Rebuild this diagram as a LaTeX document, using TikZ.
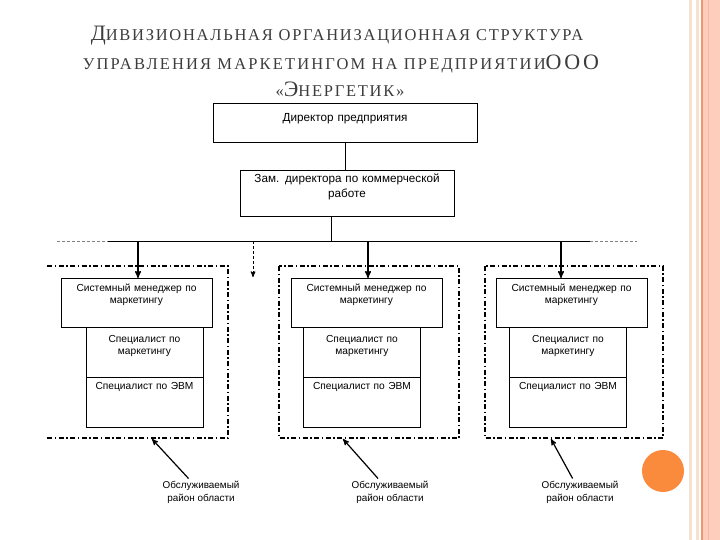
\documentclass[tikz,border=0pt]{standalone}
\usepackage{fontspec}
\setmainfont{Liberation Serif}
\newfontfamily\titlefont[LetterSpace=10.5]{Liberation Serif}
\newfontfamily\titlefontwide[LetterSpace=13]{Liberation Serif}
\newfontfamily\boxfont{Liberation Sans}
\usetikzlibrary{arrows,positioning}

\definecolor{titlegray}{RGB}{60,60,60}
\definecolor{bandpink}{RGB}{255,205,188}
\definecolor{bandline}{RGB}{238,150,112}
\definecolor{bandbeige}{RGB}{246,224,208}
\definecolor{dotorange}{RGB}{250,138,60}

% big letters inside the small-caps title lines
\newcommand{\tcap}[1]{{\fontsize{22}{24}\selectfont #1}}

\tikzset{
  headline/.style={font=\titlefont\fontsize{16.5}{18}\selectfont, text=titlegray,
                   anchor=base, inner sep=0pt},
  unit/.style={draw, fill=white, outer sep=0pt, inner sep=2pt, align=center,
               font=\boxfont\fontsize{10.2}{12.5}\selectfont},
  bigunit/.style={unit, anchor=north, font=\boxfont\fontsize{11.7}{14}\selectfont},
  smbox/.style={unit, anchor=north, font=\boxfont\fontsize{10.2}{12}\selectfont,
                text width=147pt, text height=11pt, text depth=34pt},
  specbox/.style={unit, text width=113pt},
  grpframe/.style={line width=1.8pt, dash pattern=on 5pt off 2.5pt on 1.5pt off 2.5pt},
  busext/.style={gray, line width=0.6pt, dash pattern=on 3pt off 2pt},
  area/.style={font=\boxfont\fontsize{9.9}{13}\selectfont, align=center, inner sep=2pt}
}

\begin{document}
\begin{tikzpicture}[x=1pt,y=-1pt,->,>=stealth',line width=0.6pt]
      \useasboundingbox (0,0) rectangle (720,540);

      % slide decoration on the right
      \fill[bandpink] (703,0) rectangle (720,540);
      \fill[bandbeige] (689,0) rectangle (692,540);
      \fill[bandbeige] (696,0) rectangle (698.5,540);
      \fill[bandline] (701,0) rectangle (703,540);
      \draw[-,bandline!40!bandpink,line width=0.8pt] (708,0) -- (708,540);
      \fill[dotorange] (663,471) circle (21);

      % title
      \node[headline] (head1) at (337,41) {\tcap{Д}ИВИЗИОНАЛЬНАЯ ОРГАНИЗАЦИОННАЯ СТРУКТУРА};
      \node[headline,font=\titlefontwide\fontsize{16.5}{18}\selectfont] (head2) at (341,70)
            {УПРАВЛЕНИЯ МАРКЕТИНГОМ НА ПРЕДПРИЯТИИ\tcap{ООО}};
      \node[headline] (head3) at (340,97) {«\tcap{Э}НЕРГЕТИК»};

      % top of the structure
      \node[bigunit,text width=260pt,text height=17pt,text depth=18pt] (dir) at (345,103) {Директор предприятия};
      \node[bigunit,text width=210pt,text height=11pt,text depth=31pt] (zam) at (347,170)
            {Зам. директора по коммерческой\\работе};

      \coordinate (busN) at (331,241);
      \coordinate (busL) at (108,241);
      \coordinate (busR) at (590,241);
      \coordinate (busLL) at (57,241);
      \coordinate (busRR) at (637,241);

      \draw[-] (dir.south) -- (dir.south |- zam.north);
      \draw[-] (zam.south -| busN) -- (busN);
      \draw[-] (busL) -- (busR);
      \draw[-,busext] (busLL) -- (busL);
      \draw[-,busext] (busR) -- (busRR);

      % three divisions
      \node[smbox] (sm1) at (136.5,278) {Системный менеджер по\\маркетингу};
      \node[smbox] (sm2) at (366.5,278) {Системный менеджер по\\маркетингу};
      \node[smbox] (sm3) at (571.5,278) {Системный менеджер по\\маркетингу};

      \node[specbox,anchor=north,text height=13pt,text depth=33pt] (mk1) at (144.5,327) {Специалист по\\маркетингу};
      \node[specbox,anchor=north,text height=13pt,text depth=33pt] (mk2) at (362,327) {Специалист по\\маркетингу};
      \node[specbox,anchor=north,text height=13pt,text depth=33pt] (mk3) at (568,327) {Специалист по\\маркетингу};

      \node[specbox,text height=10pt,text depth=36pt] (it1) [below=0pt of mk1] {Специалист по ЭВМ};
      \node[specbox,text height=10pt,text depth=36pt] (it2) [below=0pt of mk2] {Специалист по ЭВМ};
      \node[specbox,text height=10pt,text depth=36pt] (it3) [below=0pt of mk3] {Специалист по ЭВМ};

      % frames round the divisions
      \draw[-,grpframe] (47,266) -- (228,266) -- (228,438) -- (47,438);
      \draw[-,grpframe] (279,266) rectangle (459,438);
      \draw[-,grpframe] (485,266) rectangle (663,438);

      % arrows from the bus
      \coordinate (t1) at (138,241);
      \coordinate (t2) at (368,241);
      \coordinate (t3) at (561,241);
      \coordinate (tx) at (253,241);
      \coordinate (txend) at (253,277);

      \draw[line width=1.4pt] (t1) -- (t1 |- sm1.north);
      \draw[line width=1.4pt] (t2) -- (t2 |- sm2.north);
      \draw[line width=1.4pt] (t3) -- (t3 |- sm3.north);
      \draw[line width=1pt,dash pattern=on 3pt off 2pt] (tx) -- (txend);

      % served areas
      \node[area] (ar1) at (201,492) {Обслуживаемый\\район области};
      \node[area] (ar2) at (390,492) {Обслуживаемый\\район области};
      \node[area] (ar3) at (580,492) {Обслуживаемый\\район области};

      \coordinate (g1) at (152,439);
      \coordinate (g2) at (343,439);
      \coordinate (g3) at (551,439);

      \draw[line width=1.2pt] (ar1) -- (g1);
      \draw[line width=1.2pt] (ar2) -- (g2);
      \draw[line width=1.2pt] (ar3) -- (g3);

\end{tikzpicture}
\end{document}
